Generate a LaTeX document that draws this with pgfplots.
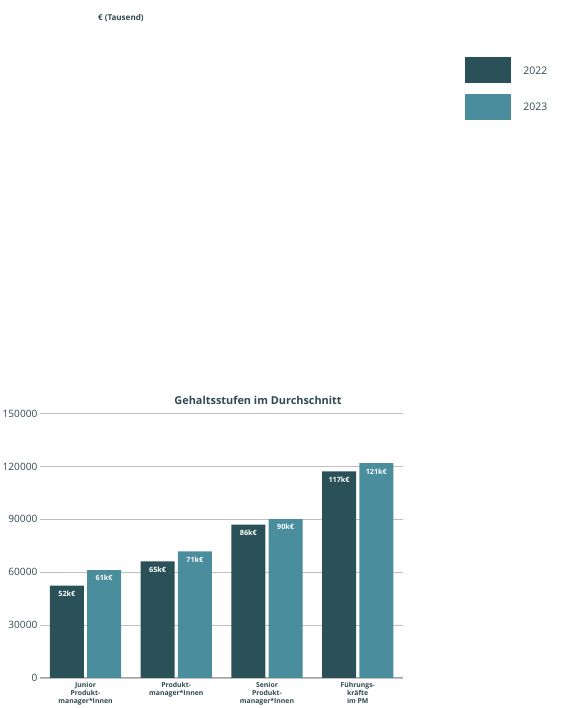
\documentclass[border=0pt]{standalone}
\usepackage{pgfplots}
\pgfplotsset{compat=1.18}
\usepackage{fontspec}
\setmainfont{Open Sans}
\definecolor{dk}{HTML}{2A5158}
\definecolor{lt}{HTML}{4A8D9C}
\definecolor{tx}{HTML}{2E4A50}
\begin{document}
\begin{tikzpicture}[x=1bp,y=1bp]
\path (-100,0) rectangle (608,-540);
\begin{axis}[at={(0,-385)},anchor=origin,scale only axis,width=448bp,height=326bp,
 xmin=-0.5,xmax=3.5,ymin=0,ymax=150000,
 ytick={0,30000,60000,90000,120000,150000},
 /pgf/number format/assume math mode=true,
 scaled y ticks=false,yticklabel={\pgfmathprintnumber[fixed,use comma=false,1000 sep={}]{\tick}},
 yticklabel style={font=\fontsize{12.5}{14}\selectfont\color{tx}},
 ymajorgrids,grid style={gray!50,line width=0.8pt},
 axis x line*=bottom,axis y line*=left,y axis line style={draw=none},
 x axis line style={gray!70,line width=1pt,-},
 xtick={0,1,2,3},major tick length=0pt,
 xticklabels={Junior\\Produkt-\\manager*Innen,Produkt-\\manager*Innen,Senior\\Produkt-\\manager*Innen,Führungs-\\kräfte\\im PM},
 xticklabel style={align=center,font=\bfseries\fontsize{8.5}{10}\selectfont\color{tx},yshift=-2bp},
 ybar,bar width=42bp,
 point meta=explicit symbolic,
 nodes near coords,every node near coord/.append style={anchor=north,font=\bfseries\fontsize{9}{10}\selectfont\color{white},yshift=-3bp},
 clip=false]
\addplot[fill=dk,draw=none,bar shift=-23bp] table[meta=l]{
x y l
0 52400 52k€
1 66200 65k€
2 87000 86k€
3 117300 117k€
};
\addplot[fill=lt,draw=none,bar shift=23bp] table[meta=l]{
x y l
0 61200 61k€
1 71800 71k€
2 90200 90k€
3 121900 121k€
};
\end{axis}
\fill[dk] (468,-70) rectangle (525,-102);
\fill[lt] (468,-116) rectangle (525,-148);
\node[anchor=west,font=\fontsize{13}{15}\selectfont\color{tx}] at (537,-87) {2022};
\node[anchor=west,font=\fontsize{13}{15}\selectfont\color{tx}] at (537,-132) {2023};
\node[anchor=west,font=\bfseries\fontsize{10}{12}\selectfont\color{tx}] at (12,-22) {€ (Tausend)};
\node[font=\bfseries\fontsize{13.5}{16}\selectfont\color{tx}] at (213,-494) {Gehaltsstufen im Durchschnitt};
\end{tikzpicture}
\end{document}
